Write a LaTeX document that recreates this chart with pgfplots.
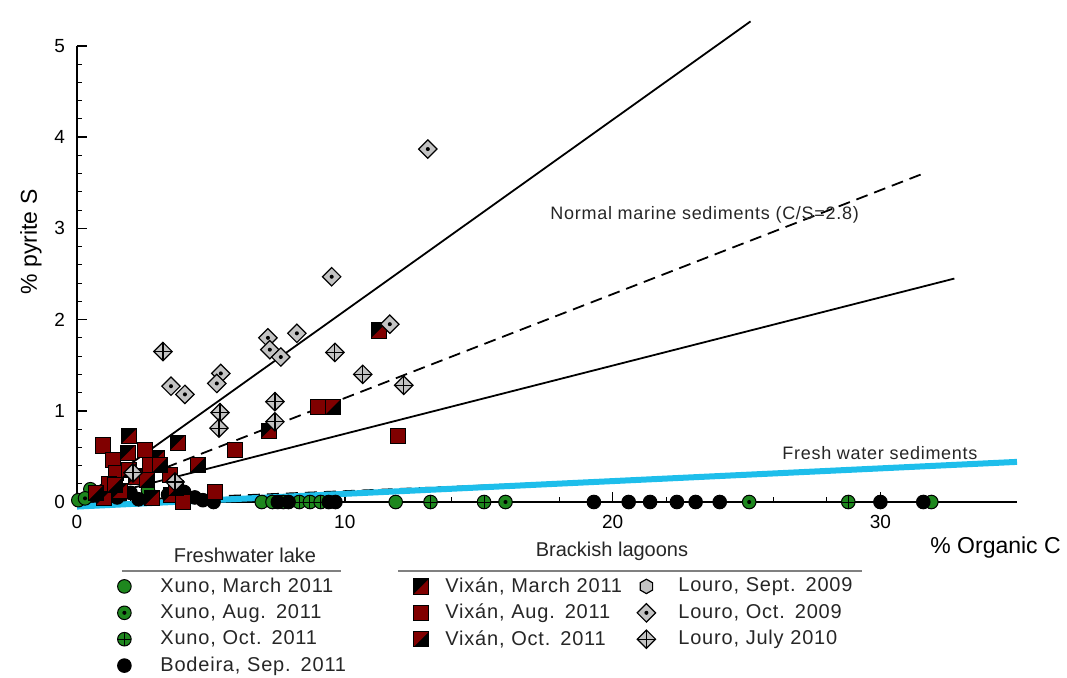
\documentclass[border=0pt]{standalone}
\usepackage{fontspec}
\setmainfont{Liberation Sans}
\newfontfamily\lsfont[LetterSpace=4]{Liberation Sans}
\usepackage{pgfplots}
\pgfplotsset{compat=1.18}

\definecolor{xgreen}{RGB}{30,135,30}
\definecolor{vred}{RGB}{128,0,0}
\definecolor{lgray}{RGB}{195,195,195}
\definecolor{fcyan}{RGB}{30,190,235}

\pgfdeclareplotmark{circledot}{%
  \pgfpathcircle{\pgfpointorigin}{\pgfplotmarksize}%
  \pgfusepathqfillstroke
  \pgfscope\pgfsetfillcolor{black}%
  \pgfpathcircle{\pgfpointorigin}{0.3\pgfplotmarksize}%
  \pgfusepathqfill\endpgfscope}
\pgfdeclareplotmark{circleplus}{%
  \pgfpathcircle{\pgfpointorigin}{\pgfplotmarksize}%
  \pgfusepathqfillstroke
  \pgfpathmoveto{\pgfpoint{-\pgfplotmarksize}{0pt}}%
  \pgfpathlineto{\pgfpoint{\pgfplotmarksize}{0pt}}%
  \pgfpathmoveto{\pgfpoint{0pt}{-\pgfplotmarksize}}%
  \pgfpathlineto{\pgfpoint{0pt}{\pgfplotmarksize}}%
  \pgfusepathqstroke}
\pgfdeclareplotmark{diamdot}{%
  \pgfpathmoveto{\pgfpoint{0pt}{\pgfplotmarksize}}%
  \pgfpathlineto{\pgfpoint{\pgfplotmarksize}{0pt}}%
  \pgfpathlineto{\pgfpoint{0pt}{-\pgfplotmarksize}}%
  \pgfpathlineto{\pgfpoint{-\pgfplotmarksize}{0pt}}%
  \pgfpathclose\pgfusepathqfillstroke
  \pgfscope\pgfsetfillcolor{black}%
  \pgfpathcircle{\pgfpointorigin}{0.22\pgfplotmarksize}%
  \pgfusepathqfill\endpgfscope}
\pgfdeclareplotmark{diamplus}{%
  \pgfpathmoveto{\pgfpoint{0pt}{\pgfplotmarksize}}%
  \pgfpathlineto{\pgfpoint{\pgfplotmarksize}{0pt}}%
  \pgfpathlineto{\pgfpoint{0pt}{-\pgfplotmarksize}}%
  \pgfpathlineto{\pgfpoint{-\pgfplotmarksize}{0pt}}%
  \pgfpathclose\pgfusepathqfillstroke
  \pgfpathmoveto{\pgfpoint{-\pgfplotmarksize}{0pt}}%
  \pgfpathlineto{\pgfpoint{\pgfplotmarksize}{0pt}}%
  \pgfpathmoveto{\pgfpoint{0pt}{-\pgfplotmarksize}}%
  \pgfpathlineto{\pgfpoint{0pt}{\pgfplotmarksize}}%
  \pgfusepathqstroke}
\pgfdeclareplotmark{hexa}{%
  \pgfpathmoveto{\pgfpointpolar{90}{\pgfplotmarksize}}%
  \pgfpathlineto{\pgfpointpolar{150}{\pgfplotmarksize}}%
  \pgfpathlineto{\pgfpointpolar{210}{\pgfplotmarksize}}%
  \pgfpathlineto{\pgfpointpolar{270}{\pgfplotmarksize}}%
  \pgfpathlineto{\pgfpointpolar{330}{\pgfplotmarksize}}%
  \pgfpathlineto{\pgfpointpolar{30}{\pgfplotmarksize}}%
  \pgfpathclose\pgfusepathqfillstroke}
\pgfdeclareplotmark{vixmarch}{%
  \pgfscope
  \pgfsetfillcolor{black}%
  \pgfpathrectangle{\pgfpoint{-\pgfplotmarksize}{-\pgfplotmarksize}}{\pgfpoint{2\pgfplotmarksize}{2\pgfplotmarksize}}%
  \pgfusepathqfill
  \pgfsetfillcolor{vred}%
  \pgfpathmoveto{\pgfpoint{-\pgfplotmarksize}{-\pgfplotmarksize}}%
  \pgfpathlineto{\pgfpoint{\pgfplotmarksize}{-\pgfplotmarksize}}%
  \pgfpathlineto{\pgfpoint{\pgfplotmarksize}{\pgfplotmarksize}}%
  \pgfpathclose\pgfusepathqfill
  \pgfpathrectangle{\pgfpoint{-\pgfplotmarksize}{-\pgfplotmarksize}}{\pgfpoint{2\pgfplotmarksize}{2\pgfplotmarksize}}%
  \pgfusepathqstroke
  \endpgfscope}
\pgfdeclareplotmark{vixoct}{%
  \pgfscope
  \pgfsetfillcolor{black}%
  \pgfpathrectangle{\pgfpoint{-\pgfplotmarksize}{-\pgfplotmarksize}}{\pgfpoint{2\pgfplotmarksize}{2\pgfplotmarksize}}%
  \pgfusepathqfill
  \pgfsetfillcolor{vred}%
  \pgfpathmoveto{\pgfpoint{-\pgfplotmarksize}{-\pgfplotmarksize}}%
  \pgfpathlineto{\pgfpoint{-\pgfplotmarksize}{\pgfplotmarksize}}%
  \pgfpathlineto{\pgfpoint{\pgfplotmarksize}{\pgfplotmarksize}}%
  \pgfpathclose\pgfusepathqfill
  \pgfpathrectangle{\pgfpoint{-\pgfplotmarksize}{-\pgfplotmarksize}}{\pgfpoint{2\pgfplotmarksize}{2\pgfplotmarksize}}%
  \pgfusepathqstroke
  \endpgfscope}

\pgfplotsset{
  sxm/.style={only marks, mark=*, mark size=3.4pt, mark options={fill=xgreen, draw=black, line width=0.5pt}},
  sxa/.style={only marks, mark=circledot, mark size=3.4pt, mark options={fill=xgreen, draw=black, line width=0.5pt}},
  sxo/.style={only marks, mark=circleplus, mark size=3.4pt, mark options={fill=xgreen, draw=black, line width=0.5pt}},
  sbo/.style={only marks, mark=*, mark size=3.4pt, mark options={fill=black, draw=black, line width=0.5pt}},
  svm/.style={only marks, mark=vixmarch, mark size=3.8pt, mark options={draw=black, line width=0.5pt}},
  sva/.style={only marks, mark=square*, mark size=3.8pt, mark options={fill=vred, draw=black, line width=0.5pt}},
  svo/.style={only marks, mark=vixoct, mark size=3.8pt, mark options={draw=black, line width=0.5pt}},
  sls/.style={only marks, mark=hexa, mark size=3.6pt, mark options={fill=lgray, draw=black, line width=0.6pt}},
  slo/.style={only marks, mark=diamdot, mark size=4.6pt, mark options={fill=lgray, draw=black, line width=0.6pt}},
  slj/.style={only marks, mark=diamplus, mark size=4.6pt, mark options={fill=lgray, draw=black, line width=0.6pt}},
  legA/.style={legend image code/.code={\path[draw=none, fill=none] (-6pt,-6.6pt) rectangle (18pt,6.6pt); \draw[##1] plot coordinates {(0pt,0pt)};}},
  legB/.style={legend image code/.code={\path[draw=none, fill=none] (-35.5pt,-6.6pt) rectangle (12pt,6.6pt); \draw[##1] plot coordinates {(0pt,0pt)};}},
  legC/.style={legend image code/.code={\path[draw=none, fill=none] (-5.5pt,-6.6pt) rectangle (16pt,6.6pt); \draw[##1] plot coordinates {(0pt,0pt)};}},
}

\begin{document}
\begin{tikzpicture}
\begin{axis}[name=ax,
  scale only axis, width=470pt, height=228pt,
  xmin=0, xmax=35.1, ymin=0, ymax=5,
  axis x line=bottom, axis y line=left,
  axis line style={-, line width=0.9pt, black},
  clip=false,
  xtick={0,10,20,30}, ytick={0,1,2,3,4,5},
  minor x tick num=4, minor y tick num=4,
  tick align=inside, major tick length=5pt, minor tick length=2.5pt,
  major tick style={black, line width=0.8pt}, minor tick style={black, line width=0.5pt},
  ticklabel style={font=\fontsize{9.5}{10}\selectfont},
  /pgf/number format/assume math mode=true,
  xticklabel style={yshift=-3pt}, yticklabel style={xshift=-2.5pt},
  legend columns=3, legend cell align=left,
  legend style={draw=none, fill=none, inner sep=0pt, row sep=0pt, column sep=0pt,
    at={(0,0)}, anchor=north west, xshift=17.5pt, yshift=-35.4pt,
    nodes={inner sep=0pt, text width=95pt, font=\lsfont\fontsize{10}{12}\selectfont, text=black!85},
    cells={anchor=west}},
]
% Xuno (freshwater lake)
\addplot[sxm, forget plot] coordinates {(0.05,0.02) (0.5,0.14) (2.65,0.13) (6.9,0) (7.3,0) (11.9,0) (31.9,0)};
\addplot[sxa, forget plot] coordinates {(0.3,0.04) (7.7,0) (16.0,0) (25.1,0)};
\addplot[sxo, forget plot] coordinates {(8.3,0) (8.7,0) (9.1,0) (13.2,0) (15.2,0) (28.8,0)};
% Bodeira
\addplot[sbo, forget plot] coordinates {(1.5,0.05) (2.0,0.1) (2.3,0.03) (3.4,0.08) (4.0,0.11) (4.4,0.05) (4.7,0.02) (5.1,0.0) (7.5,0) (7.9,0) (9.4,0) (9.65,0) (19.3,0) (20.6,0) (21.4,0) (22.4,0) (23.1,0) (24.0,0) (30.0,0) (31.6,0)};
% Vixan (brackish lagoon)
\addplot[svm, forget plot] coordinates {(1.94,0.72) (3.77,0.65) (7.16,0.78) (11.27,1.88) (2.99,0.48) (1.9,0.54) (1.0,0.05) (1.6,0.12) (2.8,0.04) (3.5,0.08) (2.2,0.28)};
\addplot[sva, forget plot] coordinates {(0.97,0.62) (1.34,0.46) (2.54,0.57) (2.72,0.41) (3.47,0.30) (1.46,0.32) (5.9,0.57) (5.15,0.11) (3.96,0.0) (8.99,1.04) (11.98,0.72) (1.2,0.2)};
\addplot[svo, forget plot] coordinates {(9.55,1.04) (4.51,0.41) (3.1,0.41) (1.42,0.19) (2.61,0.24) (1.94,0.35) (0.7,0.1) (3.7,0.15)};
% Louro (brackish lagoon)
\addplot[slo, forget plot] coordinates {(13.1,3.87) (9.51,2.47) (8.21,1.85) (7.13,1.80) (7.2,1.67) (7.61,1.59) (5.37,1.41) (5.22,1.30) (11.68,1.95) (3.51,1.27) (4.03,1.18)};
\addplot[slj, forget plot] coordinates {(3.21,1.65) (9.63,1.64) (10.67,1.40) (12.2,1.28) (7.39,1.10) (7.39,0.88) (5.34,0.98) (5.3,0.81) (2.09,0.32) (3.66,0.22)};
% reference lines
\addplot[black, line width=0.9pt, forget plot] coordinates {(0,0) (25.15,5.27)};
\addplot[black, line width=0.9pt, dash pattern=on 6pt off 3.5pt, forget plot] coordinates {(0,0) (31.5,3.59)};
\addplot[black, line width=0.9pt, forget plot] coordinates {(0,0) (32.76,2.45)};
\addplot[black, line width=0.9pt, dash pattern=on 6pt off 3.5pt, forget plot] coordinates {(0,0) (21,0.25)};
\addplot[fcyan, line width=3pt, forget plot] coordinates {(0,-0.05) (35.1,0.44)};
% legend
\addlegendimage{sxm, legA}\addlegendentry{Xuno, March 2011}
\addlegendimage{svm, legB}\addlegendentry{Vixán, March 2011}
\addlegendimage{sls, legC}\addlegendentry{Louro, Sept. 2009}
\addlegendimage{sxa, legA}\addlegendentry{Xuno, Aug. 2011}
\addlegendimage{sva, legB}\addlegendentry{Vixán, Aug. 2011}
\addlegendimage{slo, legC}\addlegendentry{Louro, Oct. 2009}
\addlegendimage{sxo, legA}\addlegendentry{Xuno, Oct. 2011}
\addlegendimage{svo, legB}\addlegendentry{Vixán, Oct. 2011}
\addlegendimage{slj, legC}\addlegendentry{Louro, July 2010}
\addlegendimage{sbo, legA}\addlegendentry{Bodeira, Sep. 2011}
\end{axis}
\begin{scope}[shift={(ax.south west)}]
  \node[anchor=west, font=\lsfont\fontsize{9}{11}\selectfont, text=black!85, inner sep=0pt] at (236.5pt,143.5pt) {Normal marine sediments (C/S=2.8)};
  \node[anchor=west, font=\lsfont\fontsize{9}{11}\selectfont, text=black!85, inner sep=0pt] at (352.5pt,24.5pt) {Fresh water sediments};
  \node[anchor=west, font=\fontsize{11.5}{13}\selectfont, inner sep=0pt] at (426.5pt,-23pt) {\% Organic C};
  \node[rotate=90, font=\fontsize{11.5}{13}\selectfont, inner sep=0pt] at (-23pt,130pt) {\% pyrite S};
  \node[font=\fontsize{10}{12}\selectfont, text=black!85, inner sep=0pt] at (84pt,-26.5pt) {Freshwater lake};
  \node[font=\fontsize{10}{12}\selectfont, text=black!85, inner sep=0pt] at (267.5pt,-24.5pt) {Brackish lagoons};
  \draw[gray, line width=0.8pt] (22.5pt,-34.5pt) -- (132pt,-34.5pt);
  \draw[gray, line width=0.8pt] (160.5pt,-34.5pt) -- (392.5pt,-34.5pt);
\end{scope}
\pgfresetboundingbox
\path (ax.south west) ++(-38.5pt,-87.5pt) rectangle ++(533.5pt,338.5pt);
\end{tikzpicture}
\end{document}
